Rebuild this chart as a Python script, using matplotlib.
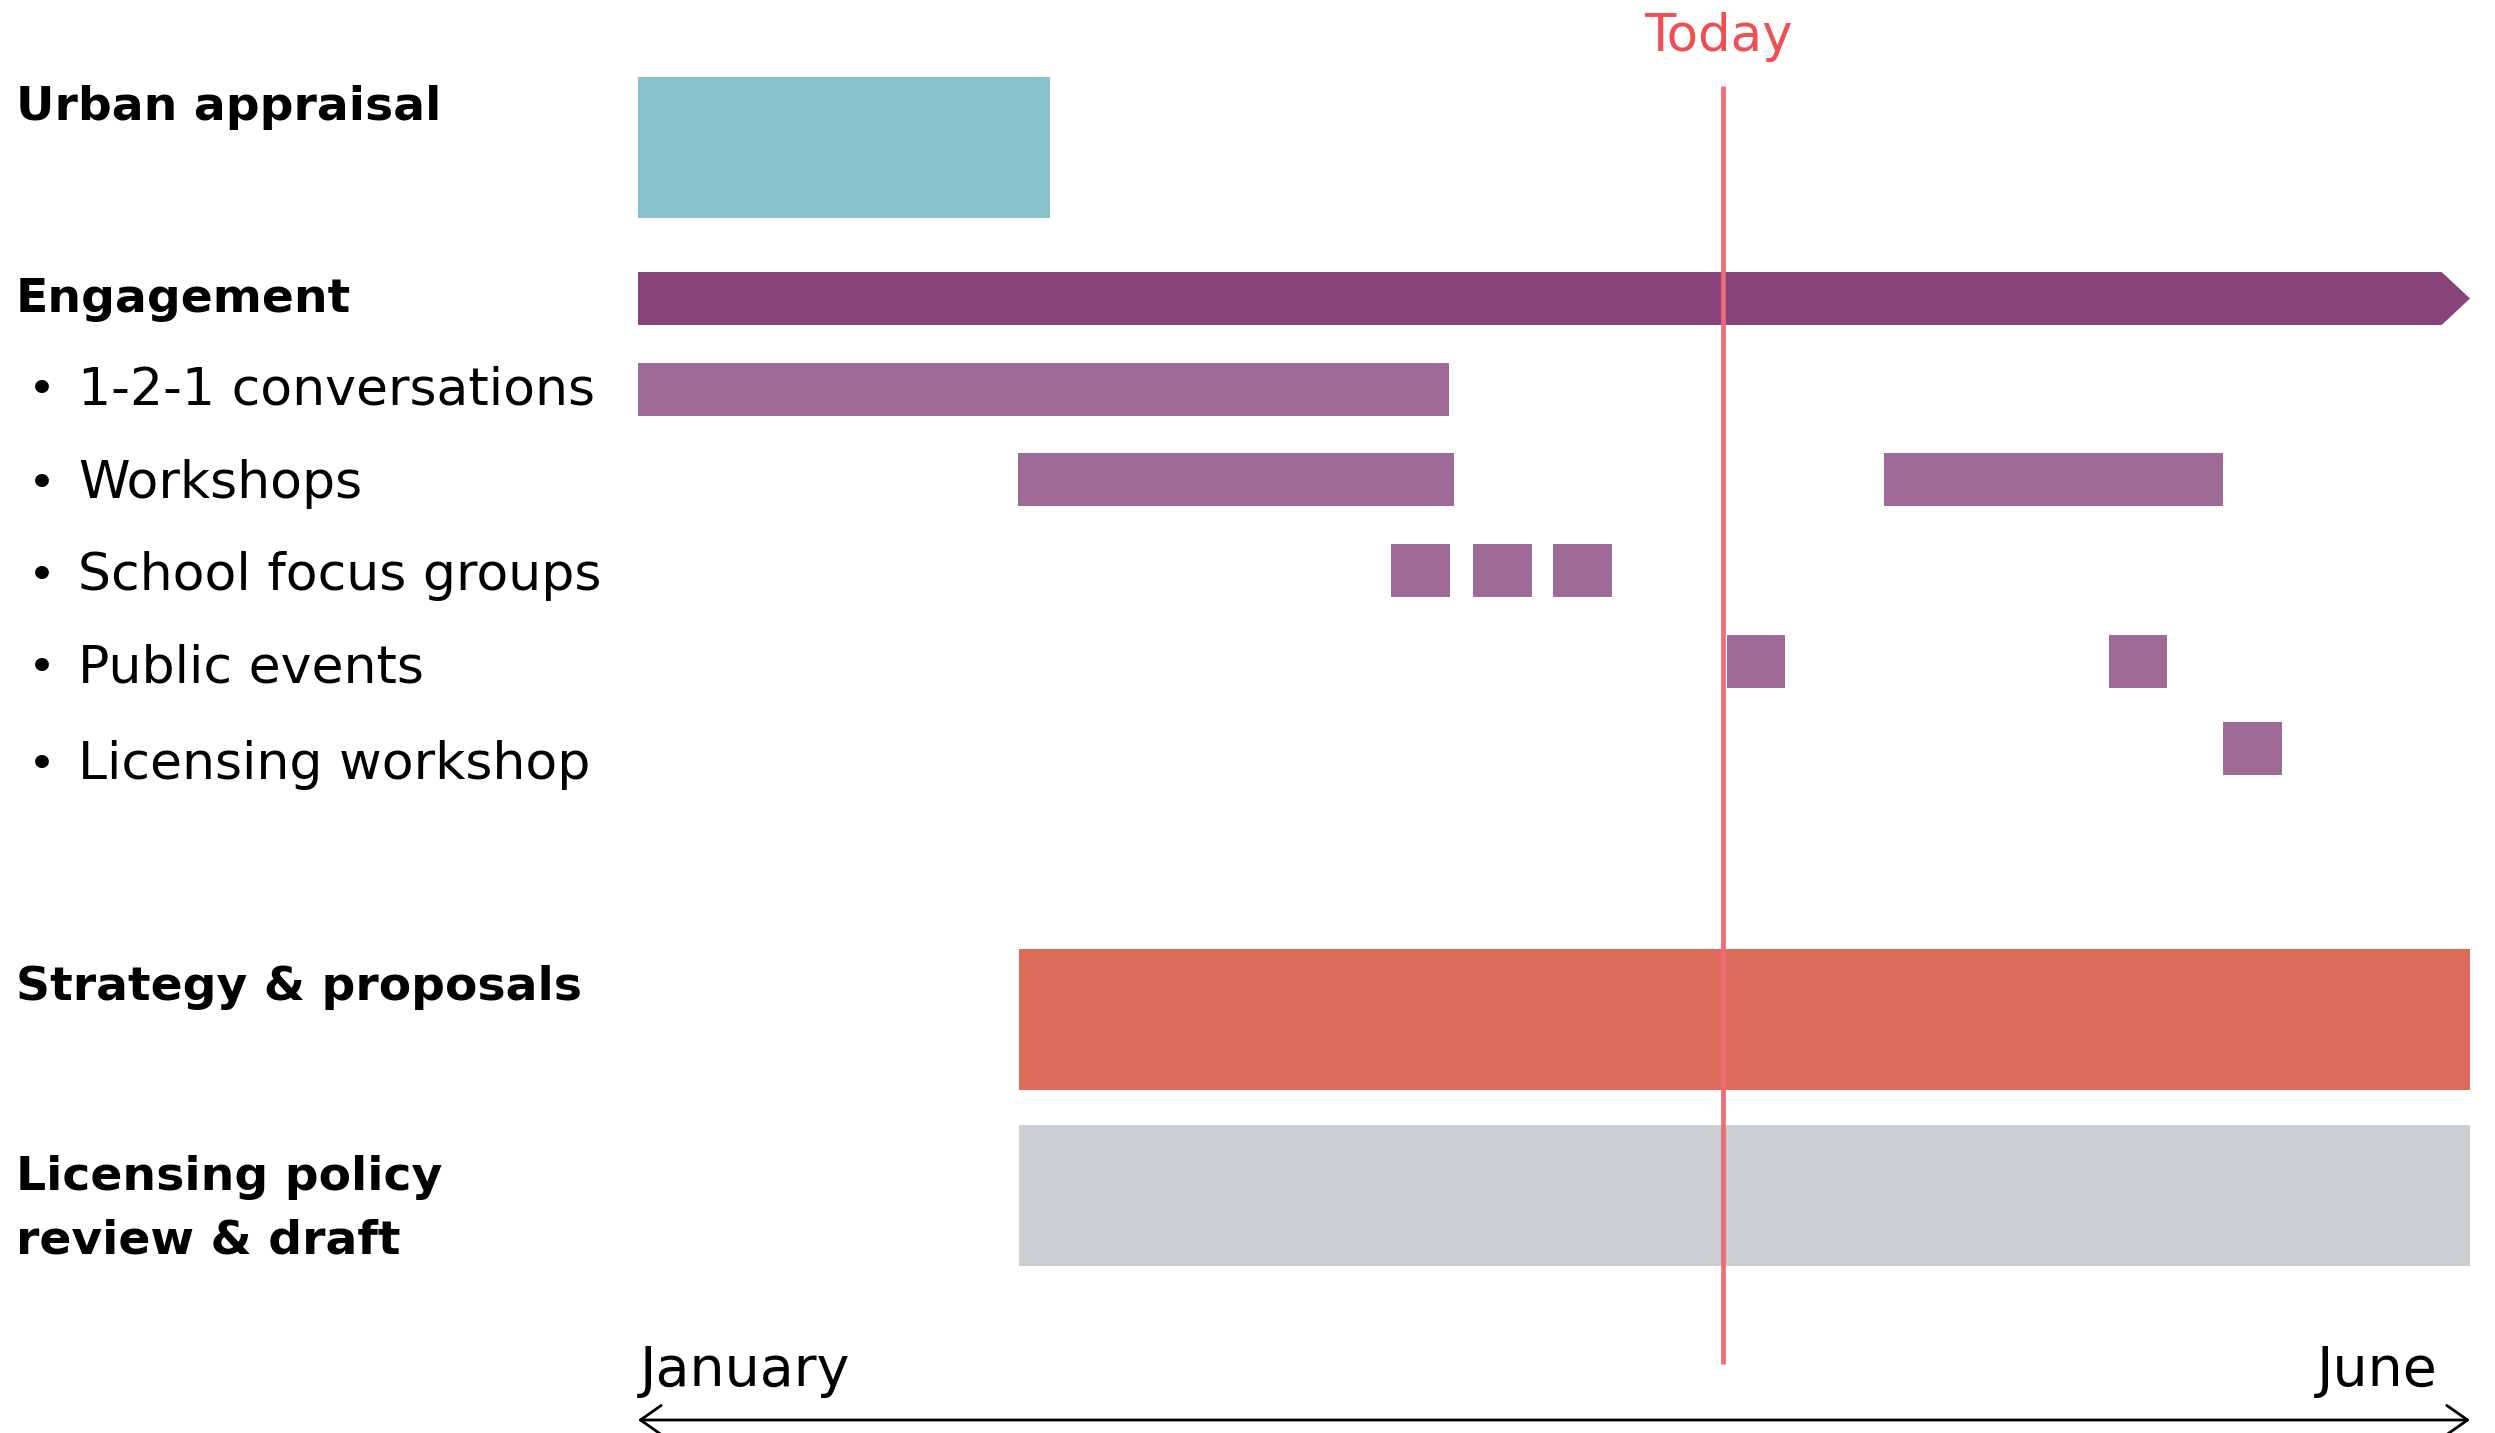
import matplotlib
matplotlib.use("Agg")
from matplotlib import pyplot as plt
from matplotlib.patches import Rectangle

# timeline in days from 1 January to end of June
t_start = 0
t_end = 181
today = 107.2

main_tasks = ["Urban appraisal", "Engagement", "Strategy & proposals", "Licensing policy\nreview & draft"]
main_start = [0, 0, 37.6, 37.6]
main_end = [40.7, 181, 181, 181]

sub_tasks = ["1-2-1 conversations", "Workshops", "School focus groups", "Public events", "Licensing workshop"]
# each sub task can have several blocks (start, end)
sub_blocks = [
    [(0, 80.1)],
    [(37.5, 80.6), (123.1, 156.6)],
    [(74.4, 80.2), (82.5, 88.3), (90.4, 96.2)],
    [(107.6, 113.3), (145.3, 151.1)],
    [(156.6, 162.4)],
]

colors_main = ["#89c1cc", "#87437a", "#dd6d5a", "#cbcfd2"]
col_sub = "#9e6a96"
col_today = "#ee6b78"

W, H = 2495, 1433
fig = plt.figure(figsize=(W / 100, H / 100), dpi=100)
ax = fig.add_axes([0, 0, 1, 1])
# x: day 0 sits at pixel 638, day 181 at pixel 2470 ; y in pixels from top
k = (2470 - 638) / (t_end - t_start)
ax.set_xlim(-638 / k, (W - 638) / k)
ax.set_ylim(H, 0)
ax.axis("off")

fam = ["DejaVu Sans"]
lab = ax.get_yaxis_transform()

# layout (pixel rows)
main_y = [147.5, 298.5, 1019.5, 1195.5]
main_h = [141, 53, 141, 141]
lab_y = [120, 312, 1000, 1190]
sub_y = [389, 479.5, 570.5, 661, 748]
sub_lab_y = [404, 498, 590, 682, 779]
sub_h = 53
line_gap = 64

for i, name in enumerate(main_tasks):
    y0 = main_y[i] - main_h[i] / 2
    if name == "Engagement":
        tip = 2.8
        xs = [main_start[i], main_end[i] - tip, main_end[i], main_end[i] - tip, main_start[i]]
        ys = [y0, y0, main_y[i], y0 + main_h[i], y0 + main_h[i]]
        ax.fill(xs, ys, color=colors_main[i], lw=0, zorder=2)
    else:
        ax.add_patch(Rectangle((main_start[i], y0), main_end[i] - main_start[i], main_h[i],
                               color=colors_main[i], lw=0, zorder=2))
    for j, line in enumerate(name.split("\n")):
        ax.text(16 / W, lab_y[i] + j * line_gap, line, transform=lab, fontsize=34,
                fontweight="bold", family=fam, va="baseline", ha="left")

for i, name in enumerate(sub_tasks):
    for (a, b) in sub_blocks[i]:
        ax.add_patch(Rectangle((a, sub_y[i] - sub_h / 2), b - a, sub_h, color=col_sub, lw=0, zorder=2))
    ax.text(28 / W, sub_lab_y[i], "\u2022", transform=lab, fontsize=34, family=fam,
            va="baseline", ha="left")
    ax.text(78 / W, sub_lab_y[i], name, transform=lab, fontsize=37.5, family=fam,
            va="baseline", ha="left")

# today marker
ax.plot([today, today], [86, 1364], color=col_today, lw=3.4, zorder=3, solid_capstyle="butt")
ax.text(today - 0.5, 51, "Today", color="#f04e50", fontsize=37, family=fam,
        ha="center", va="baseline")

# time axis
ax.annotate("", xy=(t_start, 1420), xytext=(t_end, 1420),
            arrowprops=dict(arrowstyle="<->,head_length=0.5,head_width=0.35", lw=2,
                            color="black", mutation_scale=30, shrinkA=0, shrinkB=0))
ax.text(t_start + 0.2, 1386, "January", fontsize=40, family=fam, ha="left", va="baseline")
ax.text(t_end - 3.2, 1386, "June", fontsize=40, family=fam, ha="right", va="baseline")

fig.savefig("out.png", dpi=100, facecolor="white")
